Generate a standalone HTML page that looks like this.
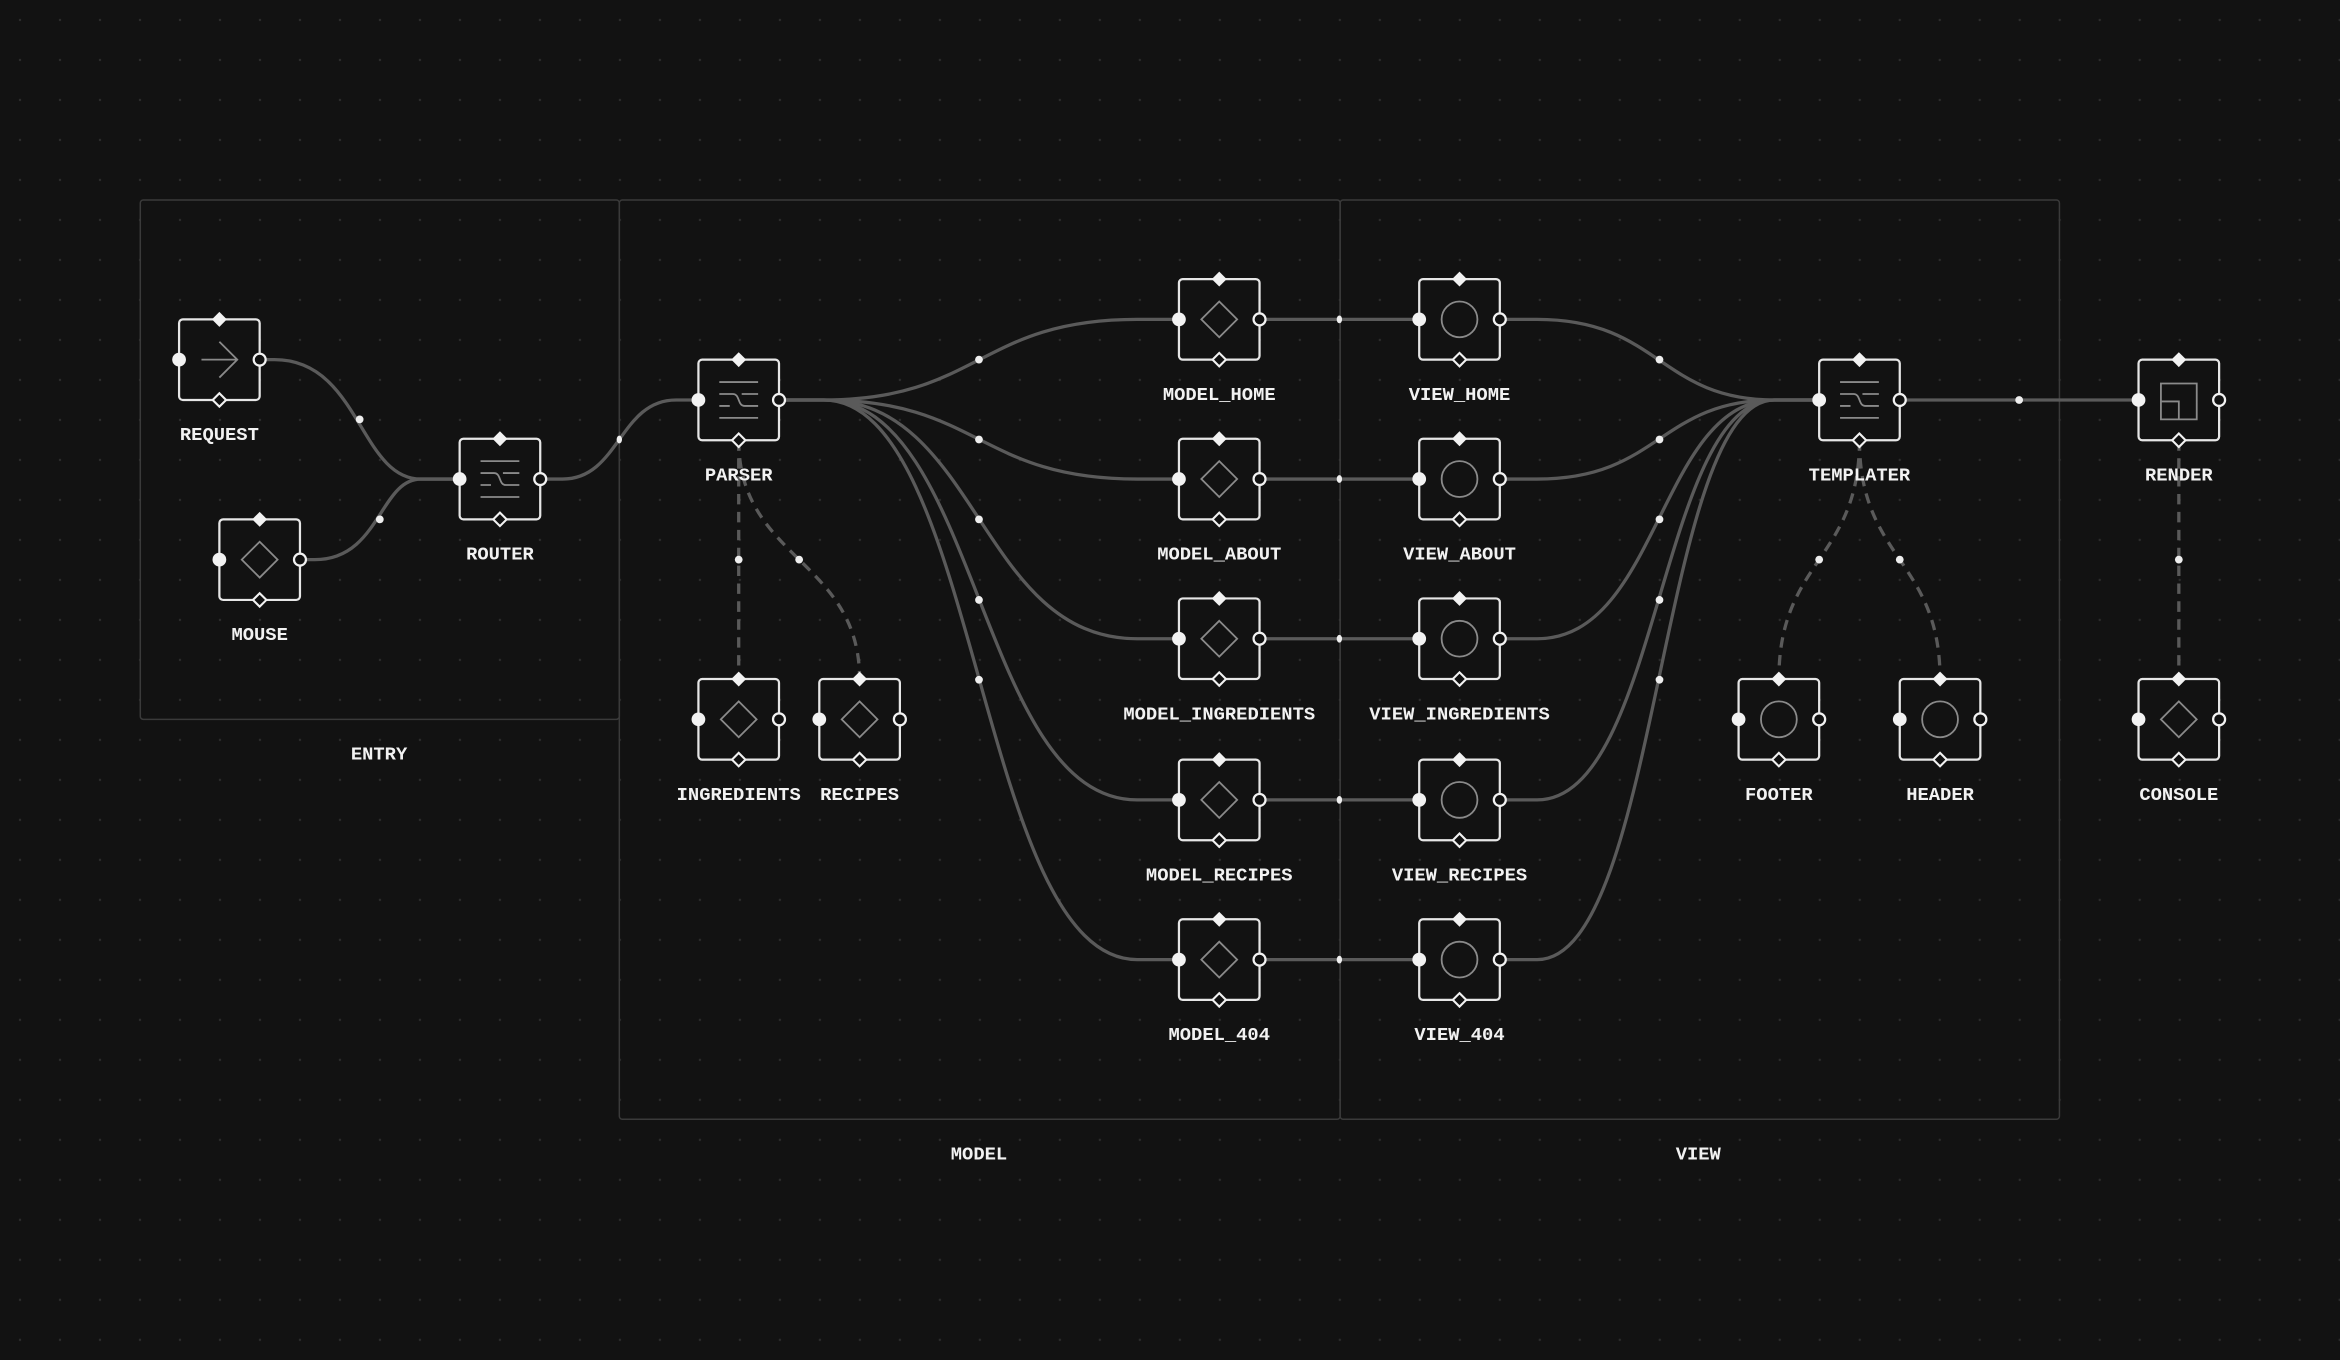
<!DOCTYPE html>
<html><head><meta charset="utf-8">
<style>
html,body{margin:0;padding:0;background:#121212;}
svg{display:block;}
text{font-family:"Liberation Mono","DejaVu Sans Mono",monospace;font-size:12.6px;font-weight:bold;fill:#f2f2f2;text-anchor:middle;}
</style></head>
<body>
<svg id="s" width="2340" height="1360" viewBox="0 0 1568 911.3" preserveAspectRatio="none" xmlns="http://www.w3.org/2000/svg">
<defs>
<pattern id="g" x="0" y="0" width="26.8" height="26.8" patternUnits="userSpaceOnUse">
<circle cx="13.4" cy="13.4" r="0.8" fill="#2c2c2c"/>
</pattern>
</defs>
<rect width="1568" height="912" fill="#121212"/>
<rect width="1568" height="912" fill="url(#g)"/>
<g fill="none" stroke="#3a3a3a" stroke-width="1">
<rect x="94" y="134" width="321" height="348" rx="2"/>
<rect x="415" y="134" width="483" height="616" rx="2"/>
<rect x="898" y="134" width="482" height="616" rx="2"/>
</g>
<g id="edges"></g>
<g id="nodes"></g>
<text x="254" y="509">ENTRY</text>
<text x="656" y="777">MODEL</text>
<text x="1138" y="777">VIEW</text>
<text x="147" y="295">REQUEST</text>
<text x="174" y="429">MOUSE</text>
<text x="335" y="375">ROUTER</text>
<text x="495" y="322">PARSER</text>
<text x="495" y="536">INGREDIENTS</text>
<text x="576" y="536">RECIPES</text>
<text x="817" y="268">MODEL_HOME</text>
<text x="817" y="375">MODEL_ABOUT</text>
<text x="817" y="482">MODEL_INGREDIENTS</text>
<text x="817" y="590">MODEL_RECIPES</text>
<text x="817" y="697">MODEL_404</text>
<text x="978" y="268">VIEW_HOME</text>
<text x="978" y="375">VIEW_ABOUT</text>
<text x="978" y="482">VIEW_INGREDIENTS</text>
<text x="978" y="590">VIEW_RECIPES</text>
<text x="978" y="697">VIEW_404</text>
<text x="1246" y="322">TEMPLATER</text>
<text x="1460" y="322">RENDER</text>
<text x="1192" y="536">FOOTER</text>
<text x="1300" y="536">HEADER</text>
<text x="1460" y="536">CONSOLE</text>
</svg>
<script>
var NS="http://www.w3.org/2000/svg";
function el(p,t,a){var e=document.createElementNS(NS,t);for(var k in a)e.setAttribute(k,a[k]);p.appendChild(e);return e;}
var E=document.getElementById("edges"),N=document.getElementById("nodes");
function hedge(x1,y1,x2,y2,dot,s1,s2){var mx=(x1+x2)/2;
 var a=x1+(s1||0),b=x2-(s2||0);
 el(E,"path",{d:"M"+x1+" "+y1+" H"+a+" C"+mx+" "+y1+" "+mx+" "+y2+" "+b+" "+y2+" H"+x2,fill:"none",stroke:"#5a5a5a","stroke-width":2.2});
 if(dot==="b"){el(E,"ellipse",{cx:mx,cy:(y1+y2)/2,rx:1.8,ry:2.6,fill:"#eee"});}
 else el(E,"circle",{cx:mx,cy:(y1+y2)/2,r:2.6,fill:"#eee"});}
function vedge(x1,y1,x2,y2){var my=(y1+y2)/2;
 el(E,"path",{d:"M"+x1+" "+y1+" C"+x1+" "+my+" "+x2+" "+my+" "+x2+" "+y2,fill:"none",stroke:"#5a5a5a","stroke-width":2.2,"stroke-dasharray":"7 5"});
 el(E,"circle",{cx:(x1+x2)/2,cy:my,r:2.6,fill:"#eee"});}
hedge(174,241,308,321,0,10,26);hedge(201,375,308,321,0,10,26);hedge(362,321,468,268,"b",15,15);
var ys=[214,321,428,536,643];
ys.forEach(function(y){hedge(522,268,790,y,0,30,28);hedge(844,y,951,y,"b");hedge(1005,y,1219,268,0,25,30);});
hedge(1273,268,1433,268);
vedge(495,295,495,455);vedge(495,295,576,455);vedge(1246,295,1192,455);vedge(1246,295,1300,455);vedge(1460,295,1460,455);
function node(x,y,ic){var g=el(N,"g",{});
 el(g,"rect",{x:x-27,y:y-27,width:54,height:54,rx:2.5,fill:"#121212",stroke:"#e6e6e6","stroke-width":1.5});
 var ic_s={fill:"none",stroke:"#8a8a8a","stroke-width":1.2};
 if(ic=="arrow"){el(g,"path",Object.assign({d:"M"+(x-12)+" "+y+"H"+(x+12)+"M"+(x)+" "+(y-12)+"L"+(x+12)+" "+y+"L"+x+" "+(y+12)},ic_s));}
 if(ic=="dia"){el(g,"path",Object.assign({d:"M"+x+" "+(y-12)+"L"+(x+12)+" "+y+"L"+x+" "+(y+12)+"L"+(x-12)+" "+y+"Z"},ic_s));}
 if(ic=="circ"){el(g,"circle",Object.assign({cx:x,cy:y,r:12},ic_s));}
 if(ic=="filt"){el(g,"path",Object.assign({d:"M"+(x-13)+" "+(y-12)+"H"+(x+13)+"M"+(x-13)+" "+(y+12)+"H"+(x+13)+"M"+(x-13)+" "+(y-4)+"H"+(x-4)+"C"+(x+1)+" "+(y-4)+" "+(x-1)+" "+(y+4)+" "+(x+4)+" "+(y+4)+"H"+(x+13)+"M"+(x+2)+" "+(y-4)+"H"+(x+13)+"M"+(x-13)+" "+(y+4)+"H"+(x-6)},ic_s));}
 if(ic=="sq"){el(g,"path",Object.assign({d:"M"+(x-12)+" "+(y-11)+"H"+(x+12)+"V"+(y+13)+"H"+(x-12)+"Z M"+(x-12)+" "+(y+1)+"H"+x+"V"+(y+13)},ic_s));}
 el(g,"circle",{cx:x-27,cy:y,r:4.6,fill:"#f2f2f2"});
 el(g,"circle",{cx:x+27,cy:y,r:4,fill:"#121212",stroke:"#f2f2f2","stroke-width":1.5});
 el(g,"path",{d:"M"+x+" "+(y-32)+"l5 5l-5 5l-5 -5z",fill:"#f2f2f2"});
 el(g,"path",{d:"M"+x+" "+(y+22.5)+"l4.5 4.5l-4.5 4.5l-4.5 -4.5z",fill:"#121212",stroke:"#f2f2f2","stroke-width":1.4});
}
node(147,241,"arrow");node(174,375,"dia");node(335,321,"filt");node(495,268,"filt");
node(495,482,"dia");node(576,482,"dia");
ys.forEach(function(y){node(817,y,"dia");node(978,y,"circ");});
node(1246,268,"filt");node(1460,268,"sq");node(1192,482,"circ");node(1300,482,"circ");node(1460,482,"dia");
</script>
</body></html>
